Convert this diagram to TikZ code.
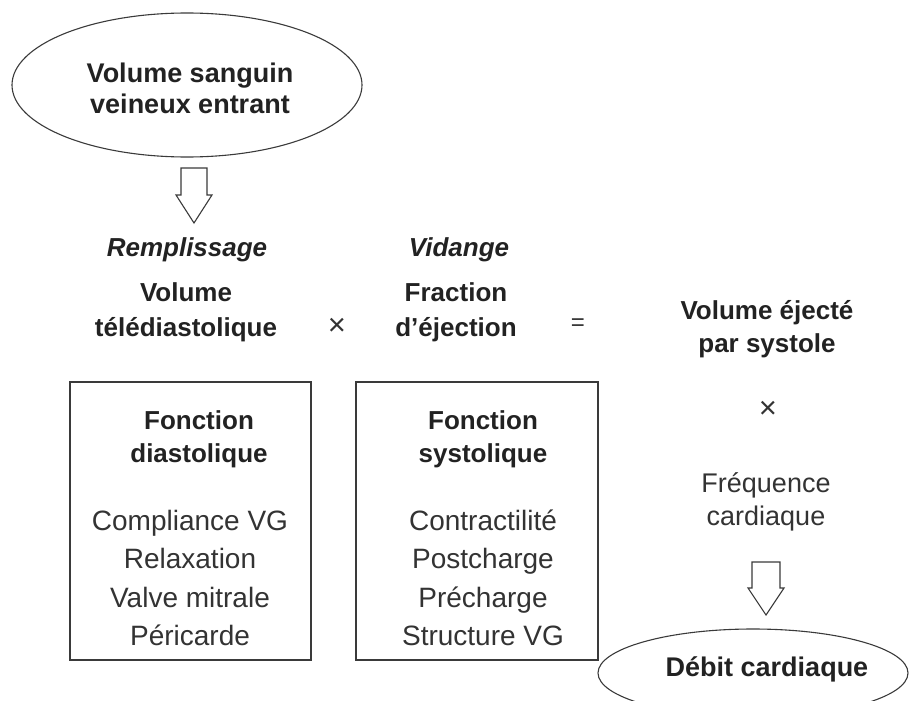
\documentclass[tikz,border=0pt]{standalone}
\usepackage{fontspec}
\setmainfont{Liberation Sans}
\usetikzlibrary{shapes.geometric}
\definecolor{ink}{HTML}{222222}
\definecolor{txt}{HTML}{333333}
\definecolor{linec}{HTML}{3A3A3A}
\tikzset{
  boldtxt/.style={font=\fontsize{27}{31}\selectfont\bfseries, text=ink, align=center, inner sep=0pt},
  hdr/.style={font=\fontsize{26}{31}\selectfont\bfseries\itshape, text=ink, inner sep=0pt},
  regtxt/.style={font=\fontsize{28}{33}\selectfont, text=txt, align=center, inner sep=0pt},
  optxt/.style={font=\fontsize{24}{28}\selectfont, text=txt, inner sep=0pt},
  bubble/.style={ellipse, draw=linec, line width=1.1pt},
  framebox/.style={draw=linec, line width=1.2pt},
  blockarrow/.style={draw=linec, line width=1.1pt, fill=white, line join=miter},
}
\begin{document}
\begin{tikzpicture}[x=1pt,y=-1pt]
\useasboundingbox (0,0) rectangle (910,701);
% top ellipse
\draw[bubble] (187,85) ellipse [x radius=175, y radius=72];
\node[boldtxt, font=\fontsize{27}{31}\selectfont\bfseries] (venous) at (190,88) {Volume sanguin\\veineux entrant};
% top block arrow
\coordinate (a1) at (194,168);
\draw[blockarrow] (a1) ++(-13,0) -- ++(0,27) -- ++(-5,0) -- ++(18,28) -- ++(18,-28) -- ++(-5,0) -- ++(0,-27) -- cycle;
% headers
\node[hdr] (remp) at (187,250) {Remplissage};
\node[hdr] (vid) at (459,250) {Vidange};
% terms
\node[boldtxt, font=\fontsize{26}{35}\selectfont\bfseries] (vtd) at (186,312) {Volume\\télédiastolique};
\node[optxt, font=\fontsize{31}{34}\selectfont] (times1) at (337,327) {×};
\node[boldtxt, font=\fontsize{26}{35}\selectfont\bfseries] (fe) at (456,312) {Fraction\\d’éjection};
\node[optxt] (eq) at (578,325) {=};
\node[boldtxt, font=\fontsize{26}{33}\selectfont\bfseries] (ves) at (767,329) {Volume éjecté\\par systole};
\node[optxt, font=\fontsize{31}{34}\selectfont] (times2) at (768,410) {×};
\node[regtxt, font=\fontsize{27}{33}\selectfont] (fc) at (766,502) {Fréquence\\cardiaque};
% boxes
\draw[framebox] (70,382) rectangle (311,660);
\node[boldtxt, font=\fontsize{26}{33}\selectfont\bfseries] (fdia) at (199,439) {Fonction\\diastolique};
\node[regtxt, font=\fontsize{28}{38.5}\selectfont] (ldia) at (190,578) {Compliance VG\\Relaxation\\Valve mitrale\\Péricarde};
\draw[framebox] (356,382) rectangle (598,660);
\node[boldtxt, font=\fontsize{26}{33}\selectfont\bfseries] (fsys) at (483,439) {Fonction\\systolique};
\node[regtxt, font=\fontsize{28}{38.5}\selectfont] (lsys) at (483,578) {Contractilité\\Postcharge\\Précharge\\Structure VG};
% bottom block arrow
\coordinate (a2) at (766,562);
\draw[blockarrow] (a2) ++(-14,0) -- ++(0,26) -- ++(-4,0) -- ++(18,27) -- ++(18,-27) -- ++(-4,0) -- ++(0,-26) -- cycle;
% bottom ellipse
\draw[bubble] (753,673) ellipse [x radius=155, y radius=44];
\node[boldtxt] (dc) at (767,669) {Débit cardiaque};
\end{tikzpicture}
\end{document}
